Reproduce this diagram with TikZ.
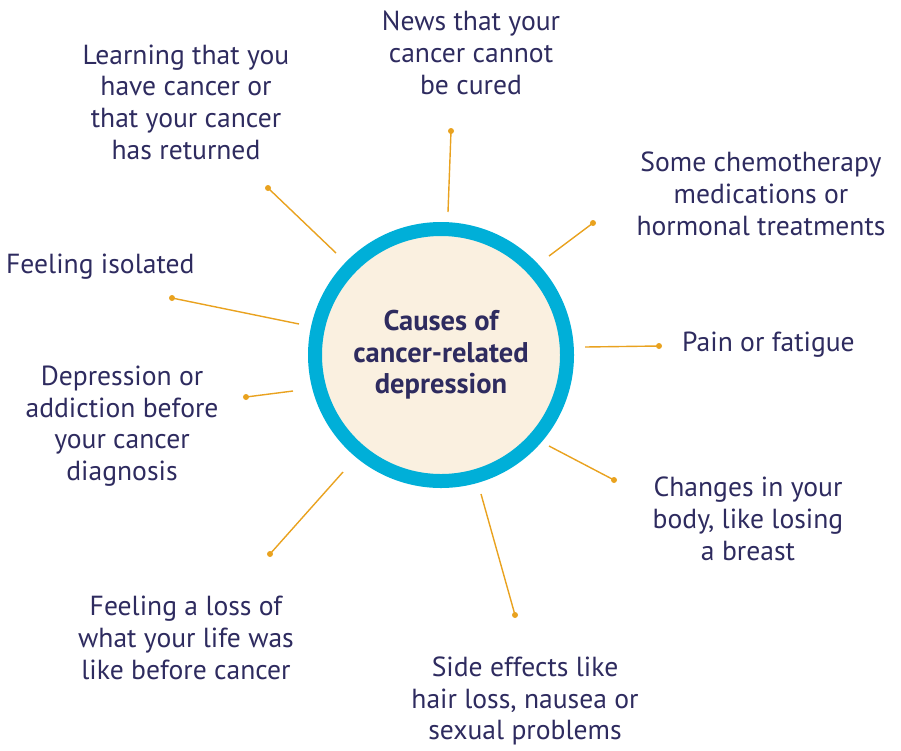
\documentclass[tikz,border=0pt]{standalone}
\usepackage{fontspec}
\setmainfont{PT Sans}
\definecolor{navy}{HTML}{2E2B5F}
\definecolor{ring}{HTML}{00AFD8}
\definecolor{cream}{HTML}{FAF0E0}
\definecolor{spokeorange}{HTML}{E9A21F}
\tikzset{
  cause/.style={text=navy, align=center, font=\fontsize{27.6}{31.7}\selectfont, inner sep=0pt},
  spoke/.style={spokeorange, line width=1.4pt},
}
\begin{document}
\begin{tikzpicture}[x=1pt, y=-1pt]
    \useasboundingbox (0,0) rectangle (901,750);

    % hub
    \node[circle, draw=ring, fill=cream, line width=14pt, minimum size=252pt,
          text=navy, align=center, font=\bfseries\fontsize{28.5}{31.5}\selectfont]
          (hub) at (441,355) {Causes of\\cancer-related\\depression};

    % causes
    \node[cause] (news)   at (471,53)  {News that your\\cancer cannot\\be cured};
    \node[cause] (learn)  at (186,102) {Learning that you\\have cancer or\\that your cancer\\has returned};
    \node[cause] (chemo)  at (761,194) {Some chemotherapy\\medications or\\hormonal treatments};
    \node[cause, anchor=west] (isol) at (6,267) {Feeling isolated};
    \node[cause, anchor=west] (pain) at (682,345) {Pain or fatigue};
    \node[cause] (depr)   at (122,426) {Depression or\\addiction before\\your cancer\\diagnosis};
    \node[cause] (body)   at (748,519) {Changes in your\\body, like losing\\a breast};
    \node[cause] (loss)   at (186,638) {Feeling a loss of\\what your life was\\like before cancer};
    \node[cause] (side)   at (525,701) {Side effects like\\hair loss, nausea or\\sexual problems};

    % spoke ends
    \coordinate (news-in)  at (448,212); \coordinate (news-dot)  at (451,131);
    \coordinate (learn-in) at (336,253); \coordinate (learn-dot) at (268,188);
    \coordinate (chemo-in) at (549,256); \coordinate (chemo-dot) at (593,223);
    \coordinate (isol-in)  at (299,324); \coordinate (isol-dot)  at (172,298);
    \coordinate (pain-in)  at (585,347); \coordinate (pain-dot)  at (659,346);
    \coordinate (depr-in)  at (293,391); \coordinate (depr-dot)  at (246,397);
    \coordinate (body-in)  at (549,446); \coordinate (body-dot)  at (614,480);
    \coordinate (side-in)  at (481,494); \coordinate (side-dot)  at (515,615);
    \coordinate (loss-in)  at (343,472); \coordinate (loss-dot)  at (270,554);

    \foreach \c in {news,learn,chemo,isol,pain,depr,body,side,loss}{
        \draw[spoke] (\c-in) -- (\c-dot);
        \fill[spokeorange] (\c-dot) circle (3pt);
    }

\end{tikzpicture}
\end{document}
